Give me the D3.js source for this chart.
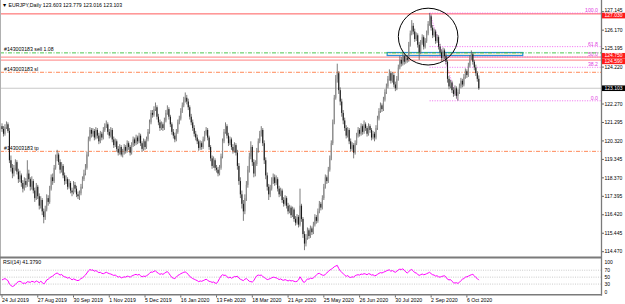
<!DOCTYPE html>
<html>
<head>
  <meta charset="utf8">
  <script src="https://d3js.org/d3.v7.min.js"></script>
  <style>
    body { margin: 0; background: #fff; }
    svg text { font-family: "Liberation Sans", Arial, sans-serif; font-size: 5.2px; fill: #000; }
    svg text.axis { font-size: 5px; }
  </style>
</head>
<body>
  <svg id="chart" width="625" height="304"></svg>
  <script>
    var opens = [
      121.10, 120.95, 120.70, 121.05, 121.20, 120.85, 119.30, 118.90, 118.60, 118.90,
      119.20, 118.70, 118.30, 118.50, 118.10, 117.80, 118.20, 118.00, 118.60, 118.30,
      117.90, 118.20, 117.70, 117.30, 117.90, 117.40, 116.90, 117.20, 116.60, 116.30,
      116.70, 117.30, 117.10, 117.80, 118.40, 118.20, 118.90, 119.40, 119.60, 119.20,
      118.80, 119.00, 118.50, 118.20, 118.30, 117.90, 118.10, 117.70, 117.60, 118.00,
      117.80, 117.50, 117.40, 117.55, 117.90, 118.30, 118.60, 118.90, 119.60, 120.40,
      120.90, 120.70, 120.85, 120.50, 120.90, 120.60, 120.30, 120.70, 120.50, 120.90,
      121.10, 121.20, 120.80, 120.60, 120.90, 120.40, 120.10, 120.30, 119.90, 119.70,
      120.00, 119.60, 119.70, 120.00, 119.80, 120.20, 120.00, 119.70, 120.10, 120.40,
      120.20, 120.50, 120.30, 120.60, 120.20, 119.90, 120.30, 120.00, 120.40, 120.80,
      121.30, 121.80, 121.70, 122.00, 122.10, 121.60, 121.30, 121.00, 121.20, 121.00,
      121.40, 121.80, 122.00, 121.60, 121.20, 120.80, 120.60, 120.40, 120.80, 121.30,
      121.50, 121.90, 122.20, 122.50, 122.60, 122.40, 122.10, 121.60, 121.30, 121.00,
      120.70, 120.50, 120.30, 119.95, 120.20, 120.00, 120.40, 120.70, 120.90, 120.50,
      120.00, 119.40, 119.00, 119.30, 118.90, 118.80, 118.60, 118.90, 119.50, 120.30,
      120.80, 121.10, 120.60, 120.20, 120.40, 120.00, 119.80, 120.10, 119.70, 119.00,
      118.20, 117.50, 117.00, 116.60, 117.30, 118.00, 118.80, 119.50, 120.00, 119.20,
      118.60, 119.10, 119.80, 120.30, 120.70, 120.90, 120.20, 119.30, 118.50, 117.90,
      117.50, 117.80, 118.20, 118.40, 118.10, 118.30, 117.80, 117.50, 117.70, 117.20,
      117.00, 117.30, 116.90, 116.60, 116.80, 116.40, 116.70, 116.20, 116.00, 116.30,
      115.90, 116.90, 116.20, 115.40, 114.90, 115.20, 115.60, 115.30, 115.70, 115.50,
      115.90, 116.30, 116.10, 116.60, 117.00, 116.80, 117.30, 117.90, 118.40, 118.20,
      118.80, 119.40, 120.20, 121.30, 122.60, 123.60, 123.90, 123.00, 122.40, 121.80,
      121.40, 121.00, 120.60, 120.90, 120.30, 119.90, 120.10, 119.70, 120.20, 120.60,
      120.90, 120.70, 121.10, 120.80, 121.20, 121.00, 120.70, 121.10, 120.90, 120.50,
      120.70, 120.50, 121.00, 121.50, 121.90, 122.20, 122.00, 122.50, 122.90, 123.20,
      123.60, 123.90, 123.50, 123.80, 123.30, 123.10, 123.60, 124.20, 124.60, 124.40,
      124.80, 124.50, 124.70, 124.60, 125.40, 126.00, 126.40, 126.10, 125.70, 125.90,
      125.40, 125.00, 125.50, 125.80, 125.30, 125.60, 126.00, 126.50, 126.90, 126.30,
      125.90, 126.10, 125.60, 125.80, 125.30, 125.00, 124.70, 125.10, 124.80, 124.50,
      123.60, 123.20, 123.40, 123.00, 122.80, 123.10, 122.70, 122.90, 123.20, 123.50,
      123.30, 123.70, 124.00, 123.80, 124.30, 124.70, 124.90, 124.50, 124.20, 123.90,
      123.603
    ];
    var highs = [
      121.25, 121.10, 121.20, 121.35, 121.30, 121.00, 119.55, 119.10, 119.05, 119.35,
      119.30, 118.85, 118.75, 118.60, 118.25, 118.40, 118.35, 119.30, 118.80, 118.40,
      118.45, 118.30, 117.85, 118.10, 118.00, 117.55, 117.40, 117.30, 116.75, 116.90,
      117.50, 117.45, 117.95, 118.55, 118.60, 119.05, 119.60, 119.85, 119.70, 119.35,
      119.20, 119.10, 118.65, 118.50, 118.40, 118.30, 118.20, 117.85, 118.20, 118.15,
      117.95, 117.65, 117.70, 118.05, 118.45, 118.80, 119.10, 119.75, 120.55, 121.05,
      121.00, 121.00, 120.95, 121.05, 121.00, 120.75, 120.85, 120.80, 121.05, 121.25,
      121.40, 121.30, 120.95, 121.05, 121.00, 120.55, 120.45, 120.40, 120.05, 120.15,
      120.10, 119.90, 120.15, 120.10, 120.35, 120.30, 120.10, 120.25, 120.55, 120.50,
      120.65, 120.60, 120.75, 120.70, 120.30, 120.45, 120.40, 120.55, 120.95, 121.45,
      121.95, 121.95, 122.15, 122.35, 122.20, 121.75, 121.45, 121.35, 121.30, 121.55,
      121.95, 122.20, 122.10, 121.70, 121.30, 120.95, 120.75, 120.95, 121.45, 121.65,
      122.05, 122.35, 122.65, 122.88, 122.75, 122.55, 122.20, 121.75, 121.45, 121.15,
      120.85, 120.65, 120.40, 120.35, 120.30, 120.55, 120.85, 121.05, 121.00, 120.60,
      120.10, 119.55, 119.50, 119.40, 119.05, 118.95, 119.05, 119.65, 120.45, 120.95,
      121.30, 121.20, 120.75, 120.55, 120.50, 120.15, 120.25, 120.20, 119.85, 119.15,
      118.40, 117.70, 117.20, 117.50, 118.20, 119.00, 119.70, 120.30, 120.10, 119.35,
      119.30, 119.95, 120.45, 120.85, 121.10, 121.00, 120.35, 119.45, 118.65, 118.05,
      118.00, 118.40, 118.60, 118.55, 118.50, 118.40, 117.95, 117.85, 117.80, 117.35,
      117.45, 117.40, 117.05, 116.95, 116.90, 116.85, 116.80, 116.35, 116.45, 116.40,
      117.80, 117.00, 116.30, 115.55, 115.40, 115.75, 115.70, 115.85, 115.80, 116.05,
      116.45, 116.40, 116.75, 117.15, 117.10, 117.45, 118.05, 118.55, 118.50, 118.95,
      119.55, 120.35, 121.45, 122.75, 123.80, 124.40, 124.00, 123.15, 122.55, 121.95,
      121.55, 121.15, 121.05, 121.00, 120.45, 120.25, 120.20, 120.35, 120.75, 121.05,
      121.00, 121.25, 121.20, 121.40, 121.30, 121.10, 121.25, 121.20, 121.00, 120.85,
      120.80, 121.15, 121.65, 122.05, 122.35, 122.30, 122.65, 123.05, 123.35, 123.75,
      124.10, 124.00, 123.95, 123.90, 123.45, 123.75, 124.35, 124.80, 124.75, 124.95,
      124.90, 124.85, 124.85, 125.55, 126.15, 126.70, 126.55, 126.25, 126.05, 126.00,
      125.55, 125.65, 125.95, 125.90, 125.75, 126.15, 126.65, 127.07, 127.00, 126.45,
      126.25, 126.20, 125.95, 125.90, 125.45, 125.15, 125.25, 125.20, 124.95, 124.60,
      123.75, 123.55, 123.50, 123.15, 123.25, 123.20, 123.05, 123.35, 123.65, 123.60,
      123.85, 124.15, 124.10, 124.45, 124.85, 125.10, 125.00, 124.60, 124.35, 124.00,
      123.779
    ];
    var lows = [
      120.80, 120.55, 120.60, 120.95, 120.75, 119.15, 118.70, 118.35, 118.45, 118.75,
      118.55, 118.10, 118.15, 117.90, 117.60, 117.70, 117.85, 117.90, 118.15, 117.70,
      117.75, 117.55, 117.10, 117.20, 117.25, 116.70, 116.75, 116.40, 115.97, 116.15,
      116.60, 116.90, 117.00, 117.70, 118.00, 118.10, 118.80, 119.25, 119.05, 118.60,
      118.65, 118.35, 118.00, 118.05, 117.75, 117.80, 117.55, 117.40, 117.50, 117.60,
      117.35, 117.25, 117.20, 117.45, 117.80, 118.20, 118.50, 118.80, 119.50, 120.30,
      120.50, 120.55, 120.35, 120.40, 120.45, 120.15, 120.20, 120.35, 120.40, 120.80,
      121.00, 120.65, 120.45, 120.50, 120.25, 119.95, 120.00, 119.75, 119.55, 119.60,
      119.50, 119.45, 119.60, 119.65, 119.70, 119.85, 119.55, 119.60, 120.00, 120.05,
      120.10, 120.15, 120.20, 120.05, 119.75, 119.80, 119.85, 119.90, 120.30, 120.70,
      121.20, 121.55, 121.60, 121.90, 121.45, 121.15, 120.85, 120.90, 120.85, 120.90,
      121.30, 121.70, 121.45, 121.05, 120.65, 120.45, 120.25, 120.30, 120.70, 121.20,
      121.40, 121.80, 122.10, 122.35, 122.25, 121.95, 121.45, 121.15, 120.85, 120.55,
      120.35, 120.15, 119.80, 119.85, 119.85, 119.90, 120.30, 120.60, 120.35, 119.85,
      119.25, 118.85, 118.90, 118.75, 118.65, 118.45, 118.50, 118.80, 119.40, 120.20,
      120.70, 120.45, 120.05, 120.10, 119.85, 119.65, 119.70, 119.55, 118.80, 118.00,
      117.30, 116.75, 116.10, 116.45, 117.15, 117.85, 118.65, 119.35, 119.00, 118.40,
      118.45, 119.00, 119.70, 120.20, 120.55, 120.05, 119.10, 118.30, 117.70, 117.20,
      117.35, 117.70, 118.05, 117.95, 118.00, 117.65, 117.35, 117.40, 117.05, 116.85,
      116.90, 116.75, 116.45, 116.50, 116.25, 116.30, 116.05, 115.85, 115.90, 115.75,
      115.80, 116.05, 115.20, 114.55, 114.75, 115.10, 115.15, 115.20, 115.35, 115.40,
      115.80, 115.95, 116.00, 116.50, 116.65, 116.70, 117.20, 117.80, 118.05, 118.10,
      118.70, 119.30, 120.10, 121.20, 122.50, 123.40, 122.80, 122.20, 121.60, 121.20,
      120.85, 120.45, 120.50, 120.15, 119.75, 119.80, 119.40, 119.60, 120.10, 120.50,
      120.55, 120.60, 120.65, 120.70, 120.85, 120.55, 120.60, 120.75, 120.35, 120.40,
      120.30, 120.40, 120.90, 121.40, 121.80, 121.85, 121.90, 122.40, 122.80, 123.10,
      123.50, 123.35, 123.40, 123.15, 122.95, 123.00, 123.50, 124.10, 124.25, 124.30,
      124.35, 124.40, 124.45, 124.50, 125.30, 125.90, 125.95, 125.55, 125.60, 125.25,
      124.60, 124.90, 125.40, 125.15, 125.20, 125.50, 125.90, 126.40, 126.15, 125.75,
      125.80, 125.45, 125.50, 125.15, 124.85, 124.55, 124.60, 124.65, 124.35, 123.40,
      123.05, 123.10, 122.85, 122.65, 122.70, 122.55, 122.44, 122.80, 123.10, 123.15,
      123.20, 123.60, 123.65, 123.70, 124.20, 124.60, 124.35, 124.05, 123.75, 123.45,
      123.016
    ];
    var closes = [
      120.95, 120.70, 121.05, 121.20, 120.85, 119.30, 118.90, 118.60, 118.90, 119.20,
      118.70, 118.30, 118.50, 118.10, 117.80, 118.20, 118.00, 118.60, 118.30, 117.90,
      118.20, 117.70, 117.30, 117.90, 117.40, 116.90, 117.20, 116.60, 116.30, 116.70,
      117.30, 117.10, 117.80, 118.40, 118.20, 118.90, 119.40, 119.60, 119.20, 118.80,
      119.00, 118.50, 118.20, 118.30, 117.90, 118.10, 117.70, 117.60, 118.00, 117.80,
      117.50, 117.40, 117.55, 117.90, 118.30, 118.60, 118.90, 119.60, 120.40, 120.90,
      120.70, 120.85, 120.50, 120.90, 120.60, 120.30, 120.70, 120.50, 120.90, 121.10,
      121.20, 120.80, 120.60, 120.90, 120.40, 120.10, 120.30, 119.90, 119.70, 120.00,
      119.60, 119.70, 120.00, 119.80, 120.20, 120.00, 119.70, 120.10, 120.40, 120.20,
      120.50, 120.30, 120.60, 120.20, 119.90, 120.30, 120.00, 120.40, 120.80, 121.30,
      121.80, 121.70, 122.00, 122.10, 121.60, 121.30, 121.00, 121.20, 121.00, 121.40,
      121.80, 122.00, 121.60, 121.20, 120.80, 120.60, 120.40, 120.80, 121.30, 121.50,
      121.90, 122.20, 122.50, 122.60, 122.40, 122.10, 121.60, 121.30, 121.00, 120.70,
      120.50, 120.30, 119.95, 120.20, 120.00, 120.40, 120.70, 120.90, 120.50, 120.00,
      119.40, 119.00, 119.30, 118.90, 118.80, 118.60, 118.90, 119.50, 120.30, 120.80,
      121.10, 120.60, 120.20, 120.40, 120.00, 119.80, 120.10, 119.70, 119.00, 118.20,
      117.50, 117.00, 116.60, 117.30, 118.00, 118.80, 119.50, 120.00, 119.20, 118.60,
      119.10, 119.80, 120.30, 120.70, 120.90, 120.20, 119.30, 118.50, 117.90, 117.50,
      117.80, 118.20, 118.40, 118.10, 118.30, 117.80, 117.50, 117.70, 117.20, 117.00,
      117.30, 116.90, 116.60, 116.80, 116.40, 116.70, 116.20, 116.00, 116.30, 115.90,
      116.90, 116.20, 115.40, 114.90, 115.20, 115.60, 115.30, 115.70, 115.50, 115.90,
      116.30, 116.10, 116.60, 117.00, 116.80, 117.30, 117.90, 118.40, 118.20, 118.80,
      119.40, 120.20, 121.30, 122.60, 123.60, 123.90, 123.00, 122.40, 121.80, 121.40,
      121.00, 120.60, 120.90, 120.30, 119.90, 120.10, 119.70, 120.20, 120.60, 120.90,
      120.70, 121.10, 120.80, 121.20, 121.00, 120.70, 121.10, 120.90, 120.50, 120.70,
      120.50, 121.00, 121.50, 121.90, 122.20, 122.00, 122.50, 122.90, 123.20, 123.60,
      123.90, 123.50, 123.80, 123.30, 123.10, 123.60, 124.20, 124.60, 124.40, 124.80,
      124.50, 124.70, 124.60, 125.40, 126.00, 126.40, 126.10, 125.70, 125.90, 125.40,
      125.00, 125.50, 125.80, 125.30, 125.60, 126.00, 126.50, 126.90, 126.30, 125.90,
      126.10, 125.60, 125.80, 125.30, 125.00, 124.70, 125.10, 124.80, 124.50, 123.60,
      123.20, 123.40, 123.00, 122.80, 123.10, 122.70, 122.90, 123.20, 123.50, 123.30,
      123.70, 124.00, 123.80, 124.30, 124.70, 124.90, 124.50, 124.20, 123.90, 123.60,
      123.103
    ];
    var rsi = [
      42, 44, 46, 43, 40, 30, 26, 23, 25, 29,
      34, 37, 38, 36, 32, 33, 32, 37, 36, 35,
      38, 37, 35, 39, 37, 34, 38, 35, 30, 35,
      42, 44, 48, 51, 53, 57, 60, 62, 59, 56,
      58, 53, 51, 50, 47, 49, 46, 42, 45, 43,
      41, 40, 42, 46, 48, 52, 56, 62, 68, 72,
      70, 71, 67, 69, 66, 63, 64, 61, 60, 62,
      64, 62, 60, 59, 57, 55, 56, 53, 50, 52,
      48, 49, 51, 50, 53, 52, 50, 53, 55, 57,
      58, 56, 58, 54, 51, 53, 52, 54, 57, 61,
      65, 64, 67, 68, 64, 61, 58, 60, 58, 61,
      64, 66, 61, 55, 49, 47, 46, 50, 55, 57,
      60, 62, 64, 65, 62, 58, 52, 49, 46, 44,
      42, 40, 37, 39, 38, 40, 42, 44, 41, 38,
      37, 35, 36, 33, 32, 38, 46, 53, 57, 55,
      56, 51, 48, 50, 47, 49, 52, 51, 53, 47,
      44, 42, 40, 44, 46, 42, 38, 37, 36, 40,
      48, 54, 56, 55, 56, 52, 49, 46, 43, 44,
      46, 48, 50, 49, 48, 46, 43, 45, 42, 41,
      43, 41, 39, 41, 39, 40, 38, 37, 38, 42,
      51, 45, 37, 35, 40, 45, 44, 47, 46, 48,
      52, 56, 60, 61, 58, 56, 55, 58, 62, 67,
      70, 73, 76, 80, 82, 84, 75, 68, 64, 60,
      56, 52, 55, 50, 49, 51, 50, 54, 56, 57,
      56, 59, 58, 60, 59, 57, 60, 59, 56, 57,
      54, 55, 58, 61, 63, 62, 64, 66, 68, 70,
      71, 67, 69, 66, 64, 67, 71, 73, 72, 74,
      70, 65, 62, 66, 70, 72, 68, 63, 62, 58,
      55, 57, 59, 57, 58, 60, 62, 64, 60, 57,
      56, 53, 54, 51, 50, 52, 53, 54, 50, 44,
      42, 43, 38, 34, 33, 34, 32, 35, 40, 44,
      46, 50, 51, 53, 55, 57, 58, 54, 49, 46,
      41.379
    ];

    var dateTickBars = [0, 24, 48, 72, 96, 120, 144, 168, 192, 216, 240, 264, 288, 312];
    var dateLabels = ['24 Jul 2019', '27 Aug 2019', '30 Sep 2019', '1 Nov 2019', '5 Dec 2019',
      '16 Jan 2020', '13 Feb 2020', '18 Mar 2020', '21 Apr 2020', '25 May 2020',
      '26 Jun 2020', '30 Jul 2020', '2 Sep 2020', '6 Oct 2020'];
    var priceTicks = [127.145, 126.170, 125.195, 124.220, 123.245, 122.270, 121.295,
      120.320, 119.345, 118.370, 117.395, 116.420, 115.445, 114.470];
    var rsiTicks = [100, 70, 50, 30, 0];
    var rsiLevels = [70, 50, 30];

    var alertPrices = [127.030, 124.750, 124.590];
    var ticket = '#143003183';
    var orderPrices = [124.97, 123.945, 119.77];
    var orderTags = ['sell 1.08', 'sl', 'tp'];
    var fibHighBar = 287, fibHigh = 127.07, fibLowBar = 306, fibLow = 122.44;
    var fibLevels = [100, 61.8, 50, 38.2, 0];
    var boxBars = [258.5, 349.5], boxPrices = [124.83, 124.99];
    var ellipseBars = [266, 306], ellipsePrices = [124.33, 127.33];
    var symbol = 'EURJPY,Daily';
    var rsiName = 'RSI(14)';

    var chart = d3.select('#chart');
    var axisX = 601;
    var mainBottom = 257;
    var labelGap = 5.6;

    var x = d3.scaleLinear().domain([0, closes.length - 1]).range([2, 2 + (closes.length - 1) * 1.49]);
    var y = d3.scaleLinear().domain([114.19, 127.763]).range([mainBottom, 0]);
    var yr = d3.scaleLinear().domain([0, 100]).range([294.5, 259.8]);
    var fmt = d3.format('.3f');
    var last = closes.length - 1;

    chart.append('rect').attr('width', 625).attr('height', 304).attr('fill', '#fff');

    chart.append('defs').append('clipPath').attr('id', 'mainClip')
      .append('rect').attr('x', 0).attr('y', 0).attr('width', axisX).attr('height', mainBottom);

    var main = chart.append('g').attr('clip-path', 'url(#mainClip)');

    function hline(g, v, color, width, dash) {
      g.append('line')
        .attr('x1', 0).attr('x2', axisX)
        .attr('y1', y(v)).attr('y2', y(v))
        .attr('stroke', color).attr('stroke-width', width)
        .attr('stroke-dasharray', dash || null);
    }

    // bid line
    hline(main, closes[last], '#c8c8c8', 1);

    // alert levels
    alertPrices.forEach(function (p, k) {
      hline(main, p, k === 0 ? '#ff5a5a' : '#ff9a9a', k === 0 ? 1 : 1.3);
    });

    // fibonacci
    var fibRange = fibHigh - fibLow;
    fibLevels.forEach(function (lv) {
      var p = fibLow + fibRange * lv / 100;
      main.append('line')
        .attr('x1', x(fibHighBar)).attr('x2', axisX)
        .attr('y1', y(p)).attr('y2', y(p))
        .attr('stroke', '#ee44ee').attr('stroke-width', 0.8)
        .attr('stroke-dasharray', '1,1.5');
      main.append('text')
        .attr('x', axisX - 3).attr('y', y(p) - 1)
        .attr('text-anchor', 'end')
        .style('fill', '#e040e0')
        .text(d3.format('.1f')(lv));
    });
    main.append('line')
      .attr('x1', x(fibHighBar)).attr('y1', y(fibHigh))
      .attr('x2', x(fibLowBar)).attr('y2', y(fibLow))
      .attr('stroke', '#ee44ee').attr('stroke-width', 0.8)
      .attr('stroke-dasharray', '1,1.5');

    // rectangle zone
    main.append('rect')
      .attr('x', x(boxBars[0])).attr('y', y(boxPrices[1]))
      .attr('width', x(boxBars[1]) - x(boxBars[0]))
      .attr('height', y(boxPrices[0]) - y(boxPrices[1]))
      .attr('fill', '#f7f3d2').attr('stroke', '#2a8fe0').attr('stroke-width', 1.2);

    // order lines
    orderPrices.forEach(function (p, k) {
      hline(main, p, k === 0 ? '#3cbf3c' : '#ff7a45', 0.9, '4,1.5,1,1.5');
      main.append('text')
        .attr('x', 4).attr('y', y(p) - 1.6)
        .text(ticket + ' ' + orderTags[k]);
    });

    // candles
    var bars = d3.range(closes.length).map(function (i) {
      return { i: i, o: opens[i], h: highs[i], l: lows[i], c: closes[i] };
    });
    main.selectAll('.wick').data(bars).enter().append('line')
      .attr('class', 'wick')
      .attr('x1', function (d) { return x(d.i); })
      .attr('x2', function (d) { return x(d.i); })
      .attr('y1', function (d) { return y(d.h); })
      .attr('y2', function (d) { return y(d.l); })
      .attr('stroke', '#5a5a5a').attr('stroke-width', 0.8);
    main.selectAll('.body').data(bars).enter().append('rect')
      .attr('class', 'body')
      .attr('x', function (d) { return x(d.i) - 0.55; })
      .attr('width', 1.1)
      .attr('y', function (d) { return y(Math.max(d.o, d.c)); })
      .attr('height', function (d) { return Math.max(0.6, Math.abs(y(d.o) - y(d.c))); })
      .attr('fill', function (d) { return d.c >= d.o ? '#8e8e8e' : '#1a1a1a'; });

    // ellipse annotation
    main.append('ellipse')
      .attr('cx', (x(ellipseBars[0]) + x(ellipseBars[1])) / 2)
      .attr('cy', (y(ellipsePrices[0]) + y(ellipsePrices[1])) / 2)
      .attr('rx', (x(ellipseBars[1]) - x(ellipseBars[0])) / 2)
      .attr('ry', (y(ellipsePrices[0]) - y(ellipsePrices[1])) / 2)
      .attr('fill', 'none').attr('stroke', '#000').attr('stroke-width', 1);

    // title
    chart.append('text').attr('x', 2).attr('y', 7)
      .text('\u25BC ' + symbol + '  ' + [opens[last], highs[last], lows[last], closes[last]].map(fmt).join(' '));

    // RSI panel
    rsiLevels.forEach(function (v) {
      chart.append('line')
        .attr('x1', 0).attr('x2', axisX)
        .attr('y1', yr(v)).attr('y2', yr(v))
        .attr('stroke', '#b4b4b4').attr('stroke-width', 0.7)
        .attr('stroke-dasharray', '1,1.3');
    });
    chart.append('path')
      .datum(rsi)
      .attr('fill', 'none').attr('stroke', '#ff00ff').attr('stroke-width', 1)
      .attr('d', d3.line().x(function (d, i) { return x(i); }).y(function (d) { return yr(d); }));
    chart.append('text').attr('x', 3).attr('y', 264.3)
      .text(rsiName + ' ' + d3.format('.4f')(rsi[last]));

    // frames
    chart.append('line').attr('x1', 0.5).attr('x2', 0.5).attr('y1', 0).attr('y2', 295)
      .attr('stroke', '#b0b0b0').attr('stroke-width', 1);
    chart.append('line').attr('x1', 0).attr('x2', axisX + 1).attr('y1', mainBottom + 0.5).attr('y2', mainBottom + 0.5)
      .attr('stroke', '#7a7a7a').attr('stroke-width', 2);
    chart.append('line').attr('x1', 0).attr('x2', axisX + 1).attr('y1', 294.8).attr('y2', 294.8)
      .attr('stroke', '#7a7a7a').attr('stroke-width', 1.5);
    chart.append('line').attr('x1', axisX + 0.5).attr('x2', axisX + 0.5).attr('y1', 0).attr('y2', 295.5)
      .attr('stroke', '#7a7a7a').attr('stroke-width', 1.3);

    // price axis: label boxes first, spread apart so they do not collide
    var boxes = alertPrices.map(function (p) { return { p: p, bg: '#ff1a1a', cy: y(p) }; })
      .concat([{ p: closes[last], bg: '#000', cy: y(closes[last]) }])
      .sort(function (a, b) { return a.cy - b.cy; });
    for (var k = 1; k < boxes.length; k++) {
      var gap = boxes[k].cy - boxes[k - 1].cy;
      if (gap < labelGap) {
        boxes[k - 1].cy -= (labelGap - gap) / 2;
        boxes[k].cy += (labelGap - gap) / 2;
      }
    }

    priceTicks.forEach(function (p) {
      var py = y(p);
      var ty = py;
      var hidden = false;
      boxes.forEach(function (b) {
        var d = ty - b.cy;
        if (Math.abs(d) < labelGap && b.bg === '#000') hidden = true;
        else if (Math.abs(d) < labelGap) {
          var deficit = labelGap - Math.abs(d);
          var dir = d < 0 ? -1 : 1;
          ty += dir * deficit / 2;
          b.cy -= dir * deficit / 2;
        }
      });
      if (hidden) return;
      chart.append('line').attr('x1', axisX + 1).attr('x2', axisX + 3).attr('y1', py).attr('y2', py)
        .attr('stroke', '#000').attr('stroke-width', 0.6);
      chart.append('text').attr('class', 'axis').attr('x', axisX + 3.5).attr('y', ty + 1.7).text(fmt(p));
    });

    boxes.forEach(function (b) {
      chart.append('rect').attr('x', axisX + 1).attr('y', b.cy - 2.8).attr('width', 23).attr('height', 5.6)
        .attr('fill', b.bg);
      chart.append('text').attr('class', 'axis').attr('x', axisX + 3.5).attr('y', b.cy + 1.7)
        .style('fill', '#fff').text(fmt(b.p));
    });

    // rsi axis
    rsiTicks.forEach(function (v) {
      var ry = Math.min(292, Math.max(262, yr(v)));
      chart.append('text').attr('class', 'axis').attr('x', axisX + 3.5).attr('y', ry + 1.7).text(v);
    });

    // date axis
    dateTickBars.forEach(function (b, k) {
      chart.append('line').attr('x1', x(b)).attr('x2', x(b)).attr('y1', 295.5).attr('y2', 297.5)
        .attr('stroke', '#000').attr('stroke-width', 0.6);
      chart.append('text').attr('x', x(b)).attr('y', 302.3).text(dateLabels[k]);
    });
  </script>
</body>
</html>
